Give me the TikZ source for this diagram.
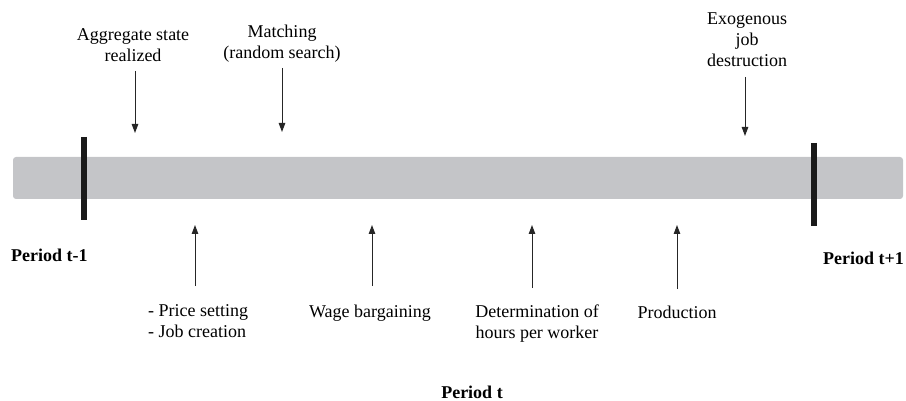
\documentclass[tikz,border=0pt]{standalone}
\usepackage{fontspec}
\setmainfont{Liberation Serif}
\usetikzlibrary{arrows.meta}
\definecolor{barGray}{RGB}{196,197,200}
\definecolor{tickBlack}{RGB}{26,26,26}
\begin{document}
\begin{tikzpicture}[x=1pt,y=-1pt,
  lbl/.style={font=\fontsize{18}{21}\selectfont, align=center, inner sep=0pt},
  lbll/.style={font=\fontsize{18}{21}\selectfont, align=left, inner sep=0pt},
  per/.style={font=\fontsize{18}{21}\selectfont\bfseries, inner sep=0pt},
  evt/.style={-{Triangle[length=9pt,width=6.5pt]}, line width=1pt, draw=black!85},
  tickmark/.style={line width=6pt, draw=tickBlack}]
\path[use as bounding box] (0,0) rectangle (906,401);
% timeline bar
\node[fill=barGray, rounded corners=3pt, minimum width=890pt, minimum height=42pt, inner sep=0pt] (bar) at (458,178) {};
% period ticks
\coordinate (t1a) at (84,137); \coordinate (t1b) at (84,220);
\coordinate (t2a) at (814,143); \coordinate (t2b) at (814,226);
\draw[tickmark] (t1a) -- (t1b);
\draw[tickmark] (t2a) -- (t2b);
% top labels
\node[lbl, anchor=north] (agg) at (133,28) {Aggregate state\\realized};
\node[lbl, anchor=north] (match) at (282,25) {Matching\\(random search)};
\node[lbl, anchor=north] (exo) at (747,13) {Exogenous\\job\\destruction};
% top arrows
\coordinate (a1s) at (135,71); \coordinate (a1e) at (135,133);
\coordinate (a2s) at (282,68); \coordinate (a2e) at (282,132);
\coordinate (a3s) at (745,77); \coordinate (a3e) at (745,136);
\draw[evt] (a1s) -- (a1e);
\draw[evt] (a2s) -- (a2e);
\draw[evt] (a3s) -- (a3e);
% bottom labels
\node[lbll, anchor=north west] (price) at (148,304) {- Price setting\\- Job creation};
\node[lbl, anchor=north] (wage) at (370,305) {Wage bargaining};
\node[lbl, anchor=north] (det) at (537,305) {Determination of\\hours per worker};
\node[lbl, anchor=north] (prod) at (677,306) {Production};
% bottom arrows
\coordinate (b1s) at (195,286); \coordinate (b1e) at (195,225);
\coordinate (b2s) at (372,286); \coordinate (b2e) at (372,225);
\coordinate (b3s) at (532,288); \coordinate (b3e) at (532,225);
\coordinate (b4s) at (677,289); \coordinate (b4e) at (677,225);
\draw[evt] (b1s) -- (b1e);
\draw[evt] (b2s) -- (b2e);
\draw[evt] (b3s) -- (b3e);
\draw[evt] (b4s) -- (b4e);
% period labels
\node[per, anchor=north west] (pprev) at (11,249) {Period t-1};
\node[per, anchor=north east] (pnext) at (904,252) {Period t+1};
\node[per, anchor=north] (pcur) at (472,386) {Period t};
\end{tikzpicture}
\end{document}
